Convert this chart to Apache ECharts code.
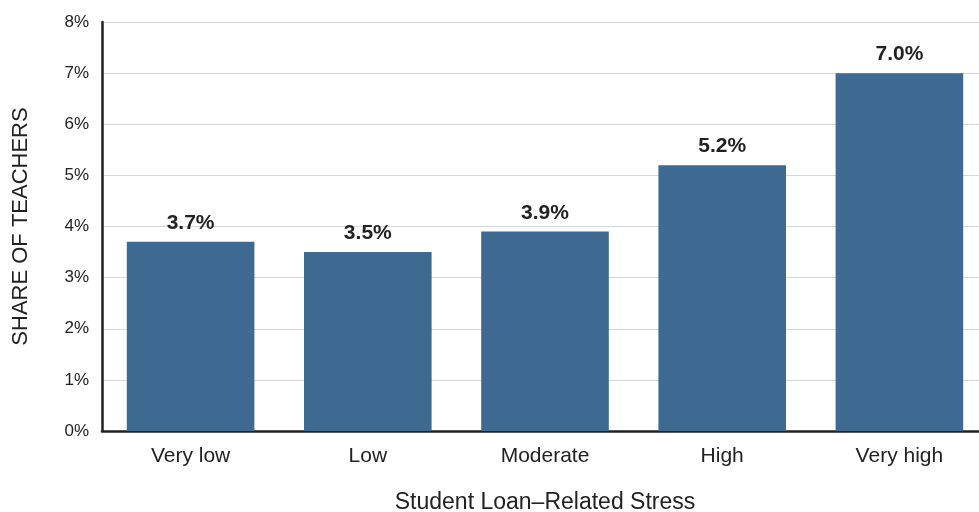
<!DOCTYPE html>
<html><head><meta charset="utf-8">
<script src="https://cdn.jsdelivr.net/npm/echarts@6/dist/echarts.min.js"></script>
<style>html,body{margin:0;padding:0;background:#fff}#c{width:979px;height:512px}</style>
</head><body><div id="c"></div>
<script>
var categories = ["Very low", "Low", "Moderate", "High", "Very high"];
var values = [3.7, 3.5, 3.9, 5.2, 7.0];
var yTicks = [0, 1, 2, 3, 4, 5, 6, 7, 8];

var chart = echarts.init(document.getElementById('c'), null, {renderer: 'canvas', width: 979, height: 512});
var font = 'Liberation Sans, Arial, sans-serif';
chart.setOption({
  animation: false,
  grid: {left: 102, right: -9, top: 22, bottom: 81, containLabel: false, outerBoundsMode: 'none'},
  xAxis: {
    type: 'category', data: categories,
    axisLine: {lineStyle: {color: '#222', width: 2.5}},
    axisTick: {show: false},
    axisLabel: {color: '#222', fontSize: 21, fontFamily: font, margin: 15},
    name: 'Student Loan\u2013Related Stress', nameLocation: 'middle', nameGap: 60,
    nameTextStyle: {color: '#222', fontSize: 23, fontFamily: font}
  },
  yAxis: {
    type: 'value', min: yTicks[0], max: yTicks[yTicks.length - 1], interval: 1,
    axisLine: {show: true, lineStyle: {color: '#222', width: 2.5}},
    axisTick: {show: false},
    splitLine: {lineStyle: {color: '#d6d6d6', width: 1}},
    axisLabel: {color: '#222', fontSize: 17, fontFamily: font, margin: 13, formatter: '{value}%'},
    name: 'SHARE OF TEACHERS', nameLocation: 'middle', nameGap: 70, nameRotate: 90,
    nameTextStyle: {color: '#222', fontSize: 22, fontFamily: font}
  },
  series: [{
    type: 'bar', data: values, barWidth: '72%',
    itemStyle: {color: '#3e6990'},
    label: {show: true, position: 'top', distance: 8, color: '#222', fontSize: 21, fontWeight: 'bold', fontFamily: font,
      formatter: function (p) { return p.value.toFixed(1) + '%'; }}
  }]
});
</script></body></html>
